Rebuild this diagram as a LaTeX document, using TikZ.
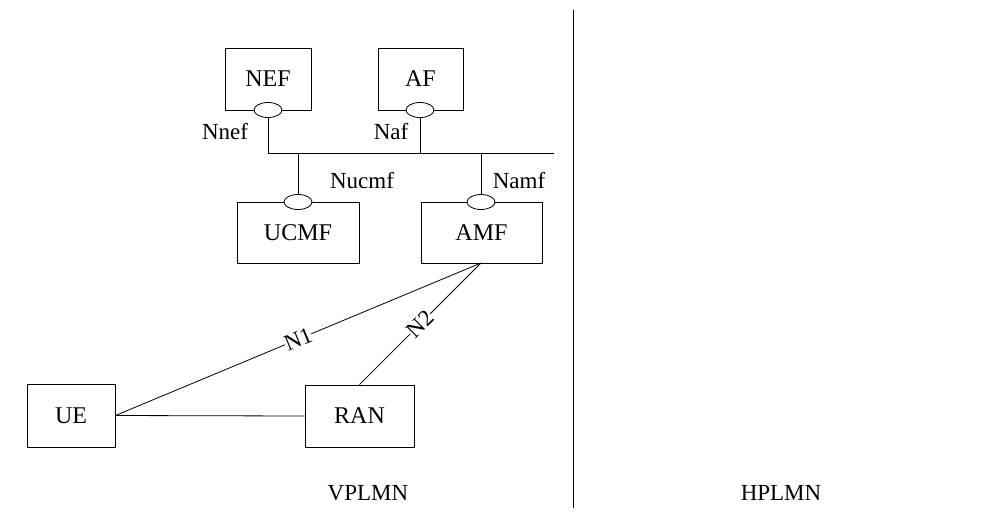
\documentclass[tikz,border=0pt]{standalone}
\usepackage{fontspec}
\setmainfont{Liberation Serif}
\usetikzlibrary{shapes.geometric}
\begin{document}
\begin{tikzpicture}[x=1pt,y=-1pt,
  box/.style={draw,thick,minimum width=0pt,inner sep=0pt,font=\fontsize{24}{26}\selectfont},
  port/.style={draw,thick,fill=white,ellipse,minimum width=28pt,minimum height=15pt,inner sep=0pt},
  lbl/.style={font=\fontsize{23}{25}\selectfont},
  ln/.style={thick}]
\useasboundingbox (0,0) rectangle (992,528);
\node[box,minimum width=86pt,minimum height=62pt] (nef) at (268,79) {NEF};
\node[box,minimum width=85pt,minimum height=62pt] (af) at (420.5,79) {AF};
\node[box,minimum width=122pt,minimum height=61pt] (ucmf) at (298,232.5) {UCMF};
\node[box,minimum width=121pt,minimum height=61pt] (amf) at (481.5,232.5) {AMF};
\node[box,minimum width=88pt,minimum height=63pt] (ue) at (71,415.5) {UE};
\node[box,minimum width=109pt,minimum height=62pt] (ran) at (359.5,416) {RAN};
\coordinate (b1) at (268,153); \coordinate (b2) at (554,153);
\coordinate (baf) at (420,153); \coordinate (bu) at (298,153); \coordinate (ba) at (481,153);
\draw[ln] (b1) -- (b2);
\draw[ln] (268,110) -- (b1);
\draw[ln] (420,110) -- (baf);
\draw[ln] (bu) -- (298,202);
\draw[ln] (ba) -- (481,202);
\node[port] (pn) at (268,110) {};
\node[port] (pa) at (420,110) {};
\node[port] (pu) at (298,202) {};
\node[port] (pm) at (481,202) {};
\node[lbl] (lnef) at (225,132) {Nnef};
\node[lbl] (laf) at (391,132) {Naf};
\node[lbl] (lu) at (362,181) {Nucmf};
\node[lbl] (lm) at (519,181) {Namf};
\coordinate (amfb) at (481,263);
\draw[ln] (ue.east) -- (ran.west);
\draw[ln] (ue.east) -- node[lbl,sloped,fill=white,inner sep=0pt] {N1} (amfb);
\draw[ln] (ran.north) -- node[lbl,sloped,fill=white,inner sep=0pt] {N2} (amfb);
\coordinate (d1) at (573,10); \coordinate (d2) at (573,508);
\draw[ln] (d1) -- (d2);
\node[lbl] (v) at (368,493) {VPLMN};
\node[lbl] (h) at (781,493) {HPLMN};
\end{tikzpicture}
\end{document}
